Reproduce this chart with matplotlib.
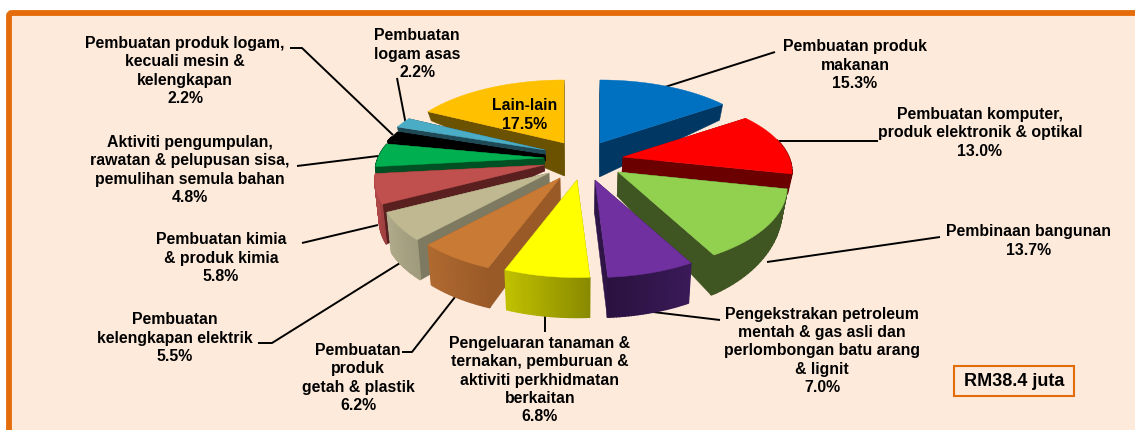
import numpy as np
import matplotlib
matplotlib.use("Agg")
import matplotlib.pyplot as plt
from matplotlib.colors import to_rgb
from matplotlib.patches import FancyBboxPatch, Rectangle

plt.rcParams['font.family'] = ['Liberation Sans', 'DejaVu Sans']

# slices, clockwise from 12 o'clock
shares = [15.3, 13.0, 13.7, 7.0, 6.8, 6.2, 5.5, 5.8, 4.8, 2.2, 2.2, 17.5]
labels = ["Pembuatan produk\nmakanan\n15.3%",
          "Pembuatan komputer,\nproduk elektronik & optikal\n13.0%",
          "Pembinaan bangunan\n13.7%",
          "Pengekstrakan petroleum\nmentah & gas asli dan\nperlombongan batu arang\n& lignit\n7.0%",
          "Pengeluaran tanaman &\nternakan, pemburuan &\naktiviti perkhidmatan\nberkaitan\n6.8%",
          "Pembuatan\nproduk\ngetah & plastik\n6.2%",
          "Pembuatan\nkelengkapan elektrik\n5.5%",
          "Pembuatan kimia\n& produk kimia\n5.8%",
          "Aktiviti pengumpulan,\nrawatan & pelupusan sisa,\npemulihan semula bahan\n4.8%",
          "Pembuatan produk logam,\nkecuali mesin &\nkelengkapan\n2.2%",
          "Pembuatan\nlogam asas\n2.2%",
          "Lain-lain\n17.5%"]
label_pos = [(855, 65), (980, 133), (1029, 241), (822, 351), (540, 380), (358, 378),
             (175, 338), (221, 258), (190, 170), (185, 71), (417, 54), (525, 115)]
leaders = [[(665, 87), (775, 52)], [(779, 141), (878, 141)], [(767, 262), (940, 237)],
           [(653, 312), (720, 320)], [(545, 310), (545, 332)],
           [(455, 297), (412, 352), (402, 352)], [(400, 263), (272, 343), (258, 343)],
           [(378, 225), (302, 243)], [(378, 156), (297, 166)],
           [(393, 135), (302, 48), (290, 48)], [(406, 125), (397, 78)]]
tops = ['#0070C0', '#FF0000', '#92D050', '#7030A0', '#FFFF00', '#C97A35',
        '#BFB890', '#C0504D', '#00B050', '#000000', '#4BACC6', '#FFC000']
walls = ['#003763', '#6B0000', '#3F5522', '#2F1448', '#8A8A00', '#9A5A28',
         '#7E7A62', '#5A2020', '#005024', '#000000', '#1F4A55', '#6B5200']
rims = [('#003763', '#003763'), ('#6B0000', '#6B0000'), ('#3F5522', '#3F5522'),
        ('#3A1A58', '#2A1240'), ('#8A8A00', '#C0C000'), ('#9A5A28', '#B06A30'),
        ('#A09B7C', '#AFAA8A'), ('#A04040', '#B04848'), ('#005024', '#005024'),
        ('#000000', '#000000'), ('#1F4A55', '#1F4A55'), ('#6B5200', '#6B5200')]
explode_x = [22, 45, 40, 17, -1, -18, -29, -34, -34, -33, -33, -14]
explode_y = [-19, -5, 10, 18, 18, 16, 11, 3, -4, -7, -12, -19]
apex_depth = [34, 15, 24, 34, 34, 34, 34, 6, 6, 6, 6, 33]
draw_order = [0, 11, 10, 9, 8, 7, 6, 1, 2, 5, 4, 3]

CX, CY = 578, 162
RX, K = 166, 0.19
RY_BACK, RY_FRONT = 75, 79
DEPTH = 40
CONVERGE = 0.022


def project(apex, theta):
    dx, dy = np.sin(theta), np.cos(theta)
    s = 1 / (1 + K * dy)
    ry = RY_BACK if dy > 0 else RY_FRONT
    return apex[0] + RX * dx * s, apex[1] - ry * dy * s


def height(theta):
    # wall is thinner towards the back, and thinner on the right than the left
    dy = np.cos(theta)
    if theta < np.pi:
        return DEPTH * np.clip(0.35 - 0.75 * dy, 0.4, 1)
    return DEPTH * np.clip(1 - 1.7 * dy, 0.2, 1)


def lower(pt, h):
    # bottom edge sits a little closer to the middle
    return pt[0] - CONVERGE * (pt[0] - CX), pt[1] + h


fig = plt.figure(figsize=(11.35, 4.30), dpi=100)
ax = fig.add_axes([0, 0, 1, 1])
ax.set_xlim(0, 1135)
ax.set_ylim(430, 0)
ax.axis('off')

# panel runs off the right and bottom of the picture
ax.add_patch(FancyBboxPatch((9, 13), 1200, 500, boxstyle="round,pad=0,rounding_size=3",
                            fc='#FDEADA', ec='#E46C0A', lw=4.2))

edges = np.radians(np.concatenate([[0], np.cumsum(shares)]) * 3.6)
for i in draw_order:
    a0, a1 = edges[i], edges[i + 1]
    apex = (CX + explode_x[i], CY + explode_y[i])
    thetas = np.linspace(a0, a1, 30)
    rim = np.array([project(apex, t) for t in thetas])
    hs = [height(t) for t in thetas]

    # cut faces first, then the rim, then the top
    for k in (0, -1):
        face = [apex, rim[k], lower(rim[k], hs[k]), lower(apex, apex_depth[i])]
        ax.fill(*zip(*face), color=walls[i], lw=0.3, zorder=2)
    c0, c1 = np.array(to_rgb(rims[i][0])), np.array(to_rgb(rims[i][1]))
    for k in range(len(rim) - 1):
        if np.cos(thetas[k]) > 0.25:
            continue
        col = c0 + (c1 - c0) * k / (len(rim) - 2)
        quad = [rim[k], rim[k + 1], lower(rim[k + 1], hs[k + 1]), lower(rim[k], hs[k])]
        ax.fill(*zip(*quad), color=col, lw=1.0, zorder=2)
    top = np.vstack([apex, rim])
    ax.fill(top[:, 0], top[:, 1], color=tops[i], lw=0.3, zorder=2)

for line in leaders:
    ax.plot(*zip(*line), color='black', lw=1.4, zorder=1.5, solid_capstyle='butt')

for text, (x, y) in zip(labels, label_pos):
    ax.text(x, y, text, ha='center', va='center', fontsize=11.4, fontweight='bold',
            color='black', linespacing=1.29, zorder=3)

ax.add_patch(Rectangle((954, 366), 120, 30, fc='none', ec='#E46C0A', lw=1.5, zorder=3))
ax.text(1014, 382, "RM38.4 juta", ha='center', va='center', fontsize=13,
        fontweight='bold', zorder=3)

fig.savefig("out.png", dpi=100)
